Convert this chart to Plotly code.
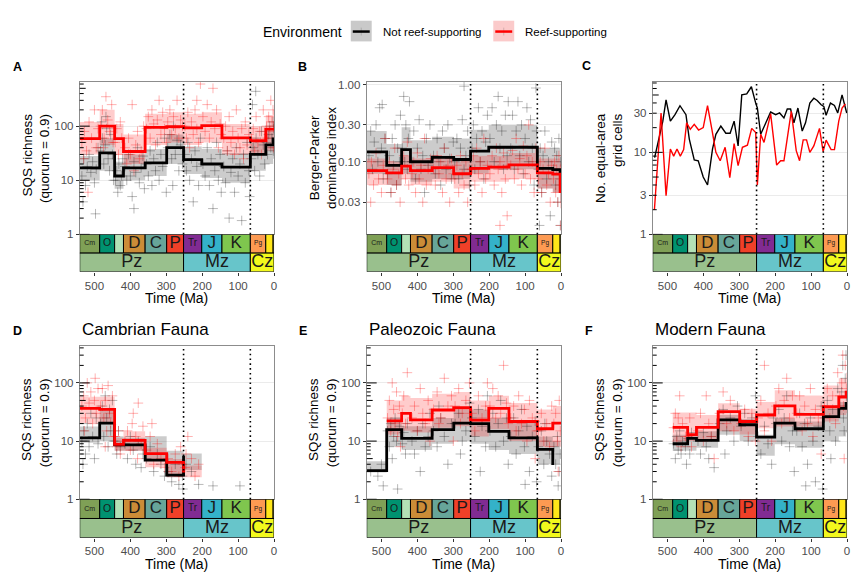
import math
import plotly.graph_objects as go

W, H = 864, 588
FONT = "Liberation Sans, Arial, sans-serif"

# ---------------- geologic time scale ----------------
period_start = [541.0, 485.4, 443.8, 419.2, 358.9, 298.9, 251.902, 201.3, 145.0, 66.0, 23.03, 2.58]
period_end = [485.4, 443.8, 419.2, 358.9, 298.9, 251.902, 201.3, 145.0, 66.0, 23.03, 2.58, 0.0]
period_colors = ["#7FA056", "#009270", "#B3E1B6", "#CB8C37", "#67A599", "#F04028",
                 "#812B92", "#34B2C9", "#7FC64E", "#FD9A52", "#FFE619", "#F9F97F"]
period_text = ["Cm", "O", "", "D", "C", "P", "Tr", "J", "K", "Pg", "", ""]
period_text_size = [7, 10.5, 1, 17, 17, 17, 10, 17, 17, 6.5, 1, 1]

era_text = ["Pz", "Mz", "Cz"]
era_start = [541.0, 251.902, 66.0]
era_end = [251.902, 66.0, 0.0]
era_colors = ["#99C08D", "#67C5CA", "#F2F91D"]

time_ticks = [500, 400, 300, 200, 100, 0]

# ---------------- Panel A: SQS richness ----------------
a_black_step = [17, 32, 12, 17, 21, 40, 24, 20, 17.5, 30, 45, 58]
a_red_step = [59, 100, 59, 34, 95, 98, 93, 102, 61, 54, 88, 88]
a_black_lo = [10, 15, 7, 10, 12, 20, 13, 11, 9, 15, 20, 25]
a_black_hi = [28, 60, 22, 30, 38, 70, 42, 38, 32, 55, 90, 120]
a_red_lo = [30, 45, 30, 20, 45, 50, 45, 50, 30, 30, 35, 35]
a_red_hi = [120, 200, 110, 70, 170, 180, 170, 180, 110, 100, 160, 200]
a_black_points = [
    (535, 12), (530, 25), (525, 8), (520, 18), (515, 30), (510, 14), (505, 22), (500, 9), (495, 16), (490, 40), (532, 4), (497, 2.4),
    (483, 35), (478, 60), (474, 20), (470, 45), (466, 90), (462, 25), (458, 15), (455, 70), (450, 30), (447, 10), (480, 120), (468, 150),
    (442, 10), (438, 15), (435, 6), (432, 20), (428, 8), (425, 12), (422, 25),
    (415, 18), (410, 10), (405, 30), (400, 12), (395, 5), (390, 22), (385, 14), (380, 40), (375, 9), (370, 17), (365, 28), (361, 7), (390, 3),
    (355, 20), (350, 12), (345, 35), (340, 8), (335, 25), (330, 15), (325, 50), (320, 10), (315, 30), (310, 18), (305, 60), (300, 6),
    (296, 40), (290, 70), (285, 25), (280, 100), (275, 30), (270, 55), (265, 15), (260, 45), (255, 20), (282, 8),
    (248, 30), (244, 15), (240, 50), (235, 10), (230, 25), (225, 4), (220, 35), (215, 18), (210, 8), (205, 60),
    (198, 20), (192, 12), (186, 40), (180, 8), (175, 25), (170, 3), (165, 15), (160, 50), (155, 10), (150, 30), (147, 6),
    (140, 18), (135, 9), (130, 35), (125, 2), (120, 14), (115, 25), (110, 6), (105, 40), (100, 12), (95, 20), (90, 1.8), (85, 30), (80, 9), (75, 50), (70, 15), (68, 5),
    (63, 25), (58, 40), (54, 15), (50, 60), (45, 30), (40, 12), (35, 80), (30, 45), (26, 20), (60, 250), (51, 440),
    (21, 50), (18, 30), (15, 70), (12, 100), (9, 40), (6, 60), (3, 120), (1, 90), (2, 35)]
a_red_points = [
    (535, 50), (528, 80), (522, 35), (515, 120), (508, 60), (500, 200), (495, 40), (490, 90), (530, 25), (518, 6),
    (483, 100), (478, 200), (473, 60), (468, 350), (463, 130), (458, 80), (452, 250), (448, 50), (475, 40),
    (442, 50), (438, 90), (433, 30), (428, 120), (424, 60),
    (415, 40), (410, 20), (405, 60), (400, 30), (395, 250), (390, 15), (385, 45), (380, 80), (375, 25), (370, 35), (363, 100),
    (355, 90), (350, 150), (345, 60), (340, 200), (335, 110), (330, 45), (325, 130), (320, 300), (315, 70), (310, 180), (305, 90), (300, 50),
    (296, 120), (290, 200), (285, 70), (280, 150), (275, 90), (270, 300), (265, 60), (260, 130), (255, 100),
    (248, 100), (244, 60), (240, 180), (235, 40), (230, 120), (225, 70), (220, 200), (215, 90), (210, 50), (205, 600), (215, 300),
    (198, 150), (192, 80), (186, 250), (180, 60), (175, 120), (170, 500), (165, 90), (160, 200), (155, 40), (150, 110), (147, 70),
    (140, 60), (135, 100), (130, 35), (125, 150), (120, 50), (115, 80), (110, 30), (105, 200), (100, 60), (95, 40), (90, 90), (85, 25), (80, 120), (75, 45), (70, 70),
    (63, 60), (58, 90), (54, 35), (50, 150), (45, 50), (40, 80), (35, 30), (30, 200), (26, 60),
    (21, 100), (18, 60), (15, 150), (12, 80), (9, 300), (6, 120), (3, 200), (1, 100), (2, 40)]

# ---------------- Panel B: Berger-Parker dominance ----------------
b_black_step = [0.134, 0.090, 0.144, 0.100, 0.114, 0.107, 0.137, 0.154, 0.154, 0.082, 0.079, 0.072]
b_red_step = [0.077, 0.072, 0.088, 0.077, 0.084, 0.070, 0.082, 0.085, 0.091, 0.072, 0.069, 0.041]
b_black_lo = [0.07, 0.05, 0.07, 0.055, 0.06, 0.06, 0.07, 0.08, 0.08, 0.045, 0.04, 0.03]
b_black_hi = [0.25, 0.17, 0.28, 0.19, 0.21, 0.20, 0.26, 0.30, 0.30, 0.15, 0.15, 0.20]
b_red_lo = [0.05, 0.05, 0.06, 0.05, 0.055, 0.045, 0.055, 0.055, 0.06, 0.045, 0.04, 0.025]
b_red_hi = [0.11, 0.10, 0.12, 0.11, 0.12, 0.10, 0.12, 0.12, 0.13, 0.11, 0.11, 0.10]
b_black_points = [
    (535, 0.12), (530, 0.25), (525, 0.08), (520, 0.18), (515, 0.3), (510, 0.1), (505, 0.5), (500, 0.15), (495, 0.06), (490, 0.2), (498, 0.55),
    (483, 0.07), (478, 0.12), (474, 0.04), (470, 0.2), (466, 0.09), (462, 0.3), (458, 0.05), (455, 0.15), (450, 0.1), (447, 0.4),
    (442, 0.15), (438, 0.7), (435, 0.1), (432, 0.3), (428, 0.08), (425, 0.2), (422, 0.6),
    (415, 0.1), (410, 0.25), (405, 0.06), (400, 0.15), (395, 0.35), (390, 0.08), (385, 0.12), (380, 0.04), (375, 0.2), (370, 0.09), (365, 0.3),
    (355, 0.12), (350, 0.07), (345, 0.2), (340, 0.1), (335, 0.05), (330, 0.25), (325, 0.15), (320, 0.08), (315, 0.3), (310, 0.11), (305, 0.06), (300, 0.18),
    (296, 0.1), (290, 0.2), (285, 0.06), (280, 0.15), (275, 0.35), (270, 0.08), (265, 0.12), (260, 0.25), (255, 0.05), (270, 0.95),
    (248, 0.15), (244, 0.3), (240, 0.08), (235, 0.2), (230, 0.5), (225, 0.1), (220, 0.25), (215, 0.06), (210, 0.18), (205, 0.4),
    (198, 0.2), (192, 0.5), (186, 0.1), (180, 0.3), (175, 0.7), (170, 0.15), (165, 0.25), (160, 0.08), (155, 0.4), (150, 0.12), (147, 0.6),
    (140, 0.15), (135, 0.4), (130, 0.08), (125, 0.25), (120, 0.6), (115, 0.12), (110, 0.3), (105, 0.07), (100, 0.2), (95, 0.5), (90, 0.1), (85, 0.35), (80, 0.15), (75, 0.05), (70, 0.9), (68, 0.25),
    (63, 0.08), (58, 0.15), (54, 0.04), (50, 0.12), (45, 0.25), (40, 0.06), (35, 0.1), (30, 0.02), (26, 0.18), (60, 0.015),
    (21, 0.08), (18, 0.15), (15, 0.05), (12, 0.12), (9, 0.03), (6, 0.2), (3, 0.06), (1, 0.1), (2, 0.015)]
b_red_points = [
    (535, 0.07), (528, 0.1), (522, 0.05), (515, 0.13), (508, 0.06), (500, 0.04), (495, 0.09), (490, 0.2), (530, 0.03),
    (483, 0.06), (478, 0.1), (473, 0.04), (468, 0.08), (463, 0.15), (458, 0.05), (452, 0.07), (448, 0.03),
    (442, 0.09), (438, 0.12), (433, 0.06), (428, 0.18), (424, 0.05),
    (415, 0.07), (410, 0.1), (405, 0.04), (400, 0.13), (395, 0.06), (390, 0.09), (385, 0.03), (380, 0.2), (375, 0.05), (370, 0.08), (363, 0.11),
    (355, 0.08), (350, 0.05), (345, 0.12), (340, 0.07), (335, 0.1), (330, 0.04), (325, 0.15), (320, 0.06), (315, 0.09), (310, 0.03), (305, 0.11), (300, 0.07),
    (296, 0.06), (290, 0.09), (285, 0.04), (280, 0.12), (275, 0.07), (270, 0.05), (265, 0.1), (260, 0.03), (255, 0.08),
    (248, 0.08), (244, 0.12), (240, 0.05), (235, 0.15), (230, 0.07), (225, 0.1), (220, 0.04), (215, 0.2), (210, 0.06), (205, 0.09),
    (198, 0.07), (192, 0.12), (186, 0.05), (180, 0.15), (175, 0.08), (170, 0.1), (165, 0.04), (160, 0.13), (155, 0.06), (150, 0.09),
    (140, 0.09), (135, 0.14), (130, 0.06), (125, 0.2), (120, 0.08), (115, 0.11), (110, 0.05), (105, 0.16), (100, 0.07), (95, 0.12), (90, 0.3), (85, 0.06), (80, 0.1), (75, 0.04), (70, 0.15),
    (63, 0.06), (58, 0.1), (54, 0.04), (50, 0.08), (45, 0.15), (40, 0.05), (35, 0.07), (30, 0.03), (26, 0.09),
    (21, 0.06), (18, 0.1), (15, 0.04), (12, 0.08), (9, 0.03), (6, 0.12), (3, 0.05), (1, 0.015), (2, 0.08), (170, 0.015), (150, 0.02)]

# ---------------- Panel C: number of grid cells ----------------
c_black_age = [535.7, 513, 503.9, 491.9, 479, 465.1, 448.5, 439.2, 425.4, 414.3, 400.4, 388.4, 374.5, 365.2, 351.4, 337.5,
               325.5, 314.4, 303.3, 293.1, 279.3, 266.3, 254.3, 249.7, 240.4, 226.6, 212.7, 198.8, 187.7, 175.7, 166.4, 157.2,
               147.9, 136.8, 124.8, 115.6, 103.6, 92.5, 83.2, 72.1, 64.7, 58.3, 46.2, 35.1, 25.9, 13.9, 0.9]
c_black_n = [8.6, 23.8, 43.6, 24, 28.8, 37, 28.8, 14.5, 8.1, 7.9, 5.0, 4.0, 11.0, 16.6, 20.9, 17.1,
             17.1, 24, 12, 50.1, 51.5, 63, 39.8, 34.7, 16.6, 22.9, 31, 28.8, 30.2, 26.3, 33.7, 33.7,
             22.9, 34.7, 18.2, 22.9, 39.8, 45.7, 42.9, 38, 36.3, 28.3, 39.8, 37.3, 30.2, 50.1, 30.2]
c_red_age = [536.3, 517.8, 503.9, 491.9, 482.7, 473.4, 464.2, 454.9, 446.6, 436.4, 425.4, 413.3, 400.4, 388.4, 376.3, 365.2,
             353.2, 339.4, 326.4, 314.4, 303.3, 291.3, 277.4, 265.4, 254.3, 249.7, 240.4, 231.2, 212.7, 196, 184.9, 175.7,
             155.3, 141.5, 132.2, 122.1, 112.8, 103.6, 92.5, 76.7, 66.6, 58.3, 44.4, 35.1, 23.1, 13.9, 4.6]
c_red_n = [2.0, 30.2, 2.96, 11.0, 9.0, 11.0, 9.0, 10.8, 22.9, 19.1, 21.9, 18.7, 20, 37, 19.1, 10,
           7.9, 11.5, 4.9, 12.8, 6.9, 11.5, 12.2, 19.6, 17.4, 4.0, 16.6, 13.2, 29.4, 7.0, 7.9, 7.9,
           31.6, 10.5, 7.9, 14.2, 14.2, 10, 12, 19.6, 10.2, 14.1, 10.8, 10.8, 24, 34.7, 39]

# ---------------- Panel D: Cambrian fauna ----------------
d_black_step = [11.4, 20.4, 8.6, 8.6, 4.7, 2.6, 5.6, None, None, None, None, None]
d_red_step = [36.5, 35, 8.8, 10.3, 6.1, 4.3, 2.9, None, None, None, None, None]
d_black_lo = [9.4, 10, 6.8, 6.8, 4.6, 2.4, 3.2, None, None, None, None, None]
d_black_hi = [17.9, 36.5, 12.1, 11.4, 12.1, 6.8, 6.1, None, None, None, None, None]
d_red_lo = [20.4, 20.4, 6.8, 6.8, 3.55, 2.4, 2.4, None, None, None, None, None]
d_red_hi = [57.6, 57.6, 11.4, 14.7, 7.7, 4.9, 3.8, None, None, None, None, None]
d_black_points = [
    (535, 10), (530, 15), (525, 6), (520, 20), (515, 8), (510, 30), (505, 12), (500, 5), (495, 25), (490, 9), (532, 4),
    (483, 20), (478, 40), (474, 12), (470, 60), (466, 25), (462, 8), (458, 35), (455, 15), (450, 50), (447, 10),
    (442, 10), (438, 6), (433, 15), (428, 8),
    (415, 9), (408, 5), (400, 12), (392, 7), (385, 4), (378, 10), (370, 3.5), (365, 6),
    (355, 5), (345, 8), (335, 3), (325, 6), (315, 4), (305, 2.5),
    (295, 3), (285, 2), (275, 4), (265, 1.8), (255, 2.5),
    (245, 4), (230, 3), (210, 1.8), (170, 1.7), (95, 1.7), (254, 1.5)]
d_red_points = [
    (535, 40), (530, 60), (525, 25), (520, 100), (515, 45), (510, 70), (505, 20), (500, 50), (495, 30), (490, 80), (528, 15), (498, 120),
    (483, 40), (478, 80), (474, 25), (470, 50), (466, 15), (462, 90), (458, 30), (455, 20), (450, 60), (447, 12), (470, 8),
    (442, 12), (438, 8), (433, 15), (428, 6),
    (415, 10), (408, 15), (400, 7), (392, 30), (385, 12), (378, 45), (370, 9), (365, 18), (380, 5), (395, 20),
    (355, 7), (345, 12), (335, 4), (325, 9), (315, 5), (305, 3.5), (340, 20),
    (295, 5), (285, 3), (275, 6), (265, 2.5), (255, 4), (260, 8),
    (248, 3.5), (240, 12), (230, 5), (220, 2.5), (210, 4), (245, 6)]

# ---------------- Panel E: Paleozoic fauna ----------------
e_black_step = [3.1, 15.7, 11.1, 11.1, 15.7, 20.4, 19.9, 14.7, 11.4, 7.2, 3.9, None]
e_red_step = [None, 22.3, 30, 23.2, 34.2, 37.4, 22.9, 36.5, 21.7, 16.3, 20.4, 20.4]
e_black_lo = [2.9, 8, 7, 7, 9, 10, 9, 7, 6, 4, 4, None]
e_black_hi = [4.5, 25, 18, 18, 25, 35, 35, 25, 22, 12, 10, None]
e_red_lo = [None, 13, 15, 14, 17, 18, 12, 16, 10, 8, 8, 8]
e_red_hi = [None, 50, 60, 55, 65, 70, 50, 60, 45, 35, 40, 40]
e_black_points = [
    (530, 3), (510, 2.5), (495, 1.7), (500, 4),
    (483, 15), (478, 8), (474, 20), (470, 5), (466, 12), (462, 25), (458, 10), (455, 1.5), (450, 18),
    (442, 9), (438, 14), (433, 6), (428, 20),
    (415, 10), (408, 6), (400, 15), (392, 3), (385, 20), (378, 8), (370, 12), (365, 30),
    (355, 15), (345, 8), (335, 25), (325, 12), (315, 4), (305, 20), (340, 40),
    (295, 20), (285, 30), (275, 10), (265, 15), (255, 45), (280, 6),
    (248, 25), (240, 12), (230, 35), (220, 18), (210, 8), (205, 60), (225, 3),
    (198, 15), (190, 30), (182, 8), (175, 20), (168, 50), (160, 10), (152, 25), (147, 4),
    (140, 12), (132, 25), (125, 6), (118, 15), (110, 35), (102, 8), (95, 18), (88, 3), (80, 12), (72, 22), (68, 2), (100, 1.8),
    (63, 8), (55, 15), (48, 4), (40, 10), (32, 6), (26, 2.5), (45, 20),
    (20, 8), (15, 4), (10, 12), (5, 3), (2, 6), (8, 1.7)]
e_red_points = [
    (483, 25), (478, 50), (474, 15), (470, 100), (466, 35), (462, 20), (458, 70), (455, 12), (450, 40), (447, 8),
    (442, 30), (438, 60), (433, 20), (428, 150),
    (415, 25), (408, 40), (400, 15), (392, 80), (385, 30), (378, 20), (370, 50), (365, 10),
    (355, 35), (345, 70), (335, 25), (325, 120), (315, 40), (305, 60), (340, 20), (300, 10),
    (295, 40), (285, 80), (275, 30), (265, 50), (255, 100), (280, 20),
    (248, 30), (240, 15), (230, 60), (220, 25), (210, 40), (205, 100),
    (198, 40), (190, 80), (182, 25), (175, 60), (168, 30), (160, 200), (152, 45), (147, 20),
    (140, 25), (132, 40), (125, 15), (118, 60), (110, 20), (102, 35), (95, 10), (88, 50), (80, 25), (72, 5), (68, 15),
    (63, 15), (55, 30), (48, 10), (40, 20), (32, 8), (26, 40),
    (20, 20), (15, 30), (10, 10), (5, 50), (2, 15), (8, 3)]

# ---------------- Panel F: Modern fauna ----------------
f_black_step = [None, 9.0, 11.1, 10.3, 23.2, 19.1, 11.7, 20.4, 16.3, 26.4, 36.5, 44.3]
f_red_step = [None, 17.2, 12.9, 17.2, 32, 21.7, 28.1, 40.4, 28.9, 38.9, 57.3, 69.6]
f_black_lo = [None, 6.8, 6.8, 7.7, 12.9, 10, 5.6, 8.8, 7.7, 10, 12, 14]
f_black_hi = [None, 12.9, 12.9, 14.7, 28, 24, 12.9, 24.6, 21.7, 36.5, 47, 55]
f_red_lo = [None, 10, 10, 10, 14.7, 13, 16.7, 17.9, 17.9, 21.7, 28, 30]
f_red_hi = [None, 31, 31, 28, 44.5, 36, 47, 74.5, 61, 90, 120, 150]
f_black_points = [
    (483, 9), (478, 5), (474, 12), (470, 7), (466, 15), (462, 6), (458, 10), (450, 8), (447, 4),
    (442, 11), (438, 6), (433, 14),
    (415, 10), (408, 6), (400, 14), (392, 8), (385, 5), (378, 12), (370, 3.5),
    (355, 20), (345, 35), (335, 15), (325, 25), (315, 10), (305, 40), (340, 6),
    (295, 18), (285, 30), (275, 10), (265, 25), (255, 60),
    (248, 12), (240, 6), (230, 18), (220, 9), (210, 4), (205, 25),
    (198, 20), (190, 35), (182, 10), (175, 25), (168, 60), (160, 8), (152, 15), (147, 3),
    (140, 15), (132, 30), (125, 8), (118, 20), (110, 4), (102, 25), (95, 10), (88, 2), (80, 18), (72, 40), (68, 1.5), (115, 1.7),
    (63, 25), (55, 50), (48, 15), (40, 35), (32, 10), (26, 80), (45, 5),
    (20, 40), (15, 70), (10, 25), (5, 120), (2, 60), (12, 200), (8, 15), (3, 300)]
f_red_points = [
    (483, 17), (478, 30), (474, 10), (470, 25), (466, 60), (462, 8), (458, 20), (450, 12),
    (442, 12), (438, 25), (433, 8),
    (415, 15), (408, 30), (400, 10), (392, 60), (385, 20), (378, 12), (370, 5),
    (355, 30), (345, 70), (335, 20), (325, 50), (315, 15),
    (295, 20), (285, 35), (275, 12), (265, 30), (255, 10),
    (248, 25), (240, 50), (230, 15), (220, 30), (210, 10), (230, 200),
    (198, 40), (190, 80), (182, 20), (175, 50), (168, 120), (160, 25), (152, 60),
    (140, 30), (132, 60), (125, 15), (118, 40), (110, 20), (102, 80), (95, 12), (88, 35), (80, 25), (72, 6),
    (63, 40), (55, 80), (48, 25), (40, 60), (32, 20), (26, 150),
    (20, 60), (15, 100), (10, 40), (5, 200), (2, 80), (12, 300), (8, 5)]

# ---------------- styling ----------------
BLACK = "#000000"
RED = "#FF0000"
GRAY_FILL = "rgba(0,0,0,0.2)"
PINK_FILL = "rgba(255,0,0,0.2)"
BLACK_PT = "rgba(0,0,0,0.28)"
RED_PT = "rgba(255,0,0,0.3)"
BORDER = "#8C8C8C"
TICKFONT = dict(family=FONT, size=11.5, color="#4D4D4D")
SQS = "SQS richness<br>(quorum = 0.9)"


def fx(px):
    return px / W


def fy(py):
    return 1 - py / H


cols = [(80, 275), (368, 563), (655, 850)]
rows = [((80, 235), (235, 273)), ((348, 504), (504, 543))]
letter_pos = [(17.5, 65), (304, 65), (589, 64), (17.5, 333), (304, 333), (591, 333)]

panels = [
    dict(letter="A", title="", col=0, row=0, yrange=[0, 2.82], yt=[1, 10, 100], ytt=["1", "10", "100"],
         ytitle=SQS, align="right", logticks=True,
         ribbons=[(a_black_lo, a_black_hi, GRAY_FILL), (a_red_lo, a_red_hi, PINK_FILL)],
         points=[(a_black_points, BLACK_PT), (a_red_points, RED_PT)],
         steps=[(a_black_step, BLACK), (a_red_step, RED)], lines=[]),
    dict(letter="B", title="", col=1, row=0, yrange=[-1.94, 0.035], yt=[0.03, 0.1, 0.3, 1.0],
         ytt=["0.03", "0.10", "0.30", "1.00"], ytitle="Berger-Parker<br>dominance index", align="center",
         logticks=False,
         ribbons=[(b_black_lo, b_black_hi, GRAY_FILL), (b_red_lo, b_red_hi, PINK_FILL)],
         points=[(b_black_points, BLACK_PT), (b_red_points, RED_PT)],
         steps=[(b_black_step, BLACK), (b_red_step, RED)], lines=[]),
    dict(letter="C", title="", col=2, row=0, yrange=[0, 1.86], yt=[1, 3, 10, 30], ytt=["1", "3", "10", "30"],
         ytitle="No. equal-area<br>grid cells", align="right", logticks=True,
         ribbons=[], points=[], steps=[],
         lines=[(c_black_age, c_black_n, BLACK), (c_red_age, c_red_n, RED)]),
    dict(letter="D", title="Cambrian Fauna", col=0, row=1, yrange=[0, 2.64], yt=[1, 10, 100],
         ytt=["1", "10", "100"], ytitle=SQS, align="right", logticks=True,
         ribbons=[(d_black_lo, d_black_hi, GRAY_FILL), (d_red_lo, d_red_hi, PINK_FILL)],
         points=[(d_black_points, BLACK_PT), (d_red_points, RED_PT)],
         steps=[(d_black_step, BLACK), (d_red_step, RED)], lines=[]),
    dict(letter="E", title="Paleozoic Fauna", col=1, row=1, yrange=[0, 2.64], yt=[1, 10, 100],
         ytt=["1", "10", "100"], ytitle=SQS, align="right", logticks=True,
         ribbons=[(e_black_lo, e_black_hi, GRAY_FILL), (e_red_lo, e_red_hi, PINK_FILL)],
         points=[(e_black_points, BLACK_PT), (e_red_points, RED_PT)],
         steps=[(e_black_step, BLACK), (e_red_step, RED)], lines=[]),
    dict(letter="F", title="Modern Fauna", col=2, row=1, yrange=[0, 2.64], yt=[1, 10, 100],
         ytt=["1", "10", "100"], ytitle=SQS, align="right", logticks=True,
         ribbons=[(f_black_lo, f_black_hi, GRAY_FILL), (f_red_lo, f_red_hi, PINK_FILL)],
         points=[(f_black_points, BLACK_PT), (f_red_points, RED_PT)],
         steps=[(f_black_step, BLACK), (f_red_step, RED)], lines=[]),
]


def axname(n, a):
    return a if n == 1 else f"{a}{n}"


def axkey(n, a):
    return f"{a}axis" if n == 1 else f"{a}axis{n}"


def ribbon_xy(lo, hi):
    xs, ys = [], []
    for s, e, l, h in zip(period_start, period_end, lo, hi):
        if l is None or h is None:
            continue
        xs += [s, e, e, s, s, None]
        ys += [l, l, h, h, l, None]
    return xs, ys


fig = go.Figure()
layout_axes = {}
shapes = []
annotations = []

for p, P in enumerate(panels):
    nm, nt = 2 * p + 1, 2 * p + 2
    xm, ym = axname(nm, "x"), axname(nm, "y")
    xt, yt = axname(nt, "x"), axname(nt, "y")
    x0px, x1px = cols[P["col"]]
    (d0, d1), (t0, t1) = rows[P["row"]]

    layout_axes[axkey(nm, "x")] = dict(domain=[fx(x0px), fx(x1px)], anchor=ym, range=[541, 0],
                                       showticklabels=False, ticks="", showgrid=False, zeroline=False,
                                       showline=True, mirror=True, linecolor=BORDER, linewidth=1)
    layout_axes[axkey(nm, "y")] = dict(domain=[fy(d1), fy(d0)], anchor=xm, type="log", range=P["yrange"],
                                       tickmode="array", tickvals=P["yt"], ticktext=P["ytt"],
                                       ticks="outside", ticklen=3, tickcolor="#333333", tickwidth=1,
                                       showgrid=True, gridcolor="#EBEBEB", gridwidth=1, zeroline=False,
                                       showline=True, mirror=True, linecolor=BORDER, linewidth=1,
                                       tickfont=TICKFONT)
    layout_axes[axkey(nt, "x")] = dict(domain=[fx(x0px), fx(x1px)], anchor=yt, range=[541, 0],
                                       tickmode="array", tickvals=time_ticks, ticks="outside", ticklen=3,
                                       tickcolor="#333333", showgrid=False, zeroline=False, showline=False,
                                       tickfont=TICKFONT)
    layout_axes[axkey(nt, "y")] = dict(domain=[fy(t1), fy(t0)], anchor=xt, range=[0, 2], visible=False,
                                       fixedrange=True)

    # ribbons
    for lo, hi, col in P["ribbons"]:
        xs, ys = ribbon_xy(lo, hi)
        fig.add_trace(go.Scatter(x=xs, y=ys, mode="lines", fill="toself", fillcolor=col,
                                 line=dict(width=0), xaxis=xm, yaxis=ym, hoverinfo="skip", showlegend=False))
    # points
    for pts, col in P["points"]:
        fig.add_trace(go.Scatter(x=[a for a, v in pts], y=[v for a, v in pts], mode="markers",
                                 marker=dict(symbol="cross-thin", size=7, line=dict(width=1, color=col)),
                                 xaxis=xm, yaxis=ym, hoverinfo="skip", showlegend=False))
    # step lines
    for vals, col in P["steps"]:
        xs = period_start + [period_end[-1]]
        ys = list(vals) + [vals[-1]]
        fig.add_trace(go.Scatter(x=xs, y=ys, mode="lines", line=dict(shape="hv", width=2.8, color=col),
                                 connectgaps=False, xaxis=xm, yaxis=ym, hoverinfo="skip", showlegend=False))
    # plain lines
    for ages, vals, col in P["lines"]:
        fig.add_trace(go.Scatter(x=ages, y=vals, mode="lines", line=dict(width=1.4, color=col),
                                 xaxis=xm, yaxis=ym, hoverinfo="skip", showlegend=False))

    # time scale boxes
    fig.add_trace(go.Bar(x=[(s + e) / 2 for s, e in zip(period_start, period_end)],
                         y=[1] * len(period_start), base=[1] * len(period_start),
                         width=[s - e for s, e in zip(period_start, period_end)],
                         marker=dict(color=period_colors, line=dict(color="black", width=1)),
                         xaxis=xt, yaxis=yt, hoverinfo="skip", showlegend=False))
    fig.add_trace(go.Bar(x=[(s + e) / 2 for s, e in zip(era_start, era_end)],
                         y=[1] * len(era_start), base=[0] * len(era_start),
                         width=[s - e for s, e in zip(era_start, era_end)],
                         marker=dict(color=era_colors, line=dict(color="black", width=1)),
                         xaxis=xt, yaxis=yt, hoverinfo="skip", showlegend=False))
    fig.add_trace(go.Scatter(x=[(s + e) / 2 for s, e in zip(period_start, period_end)],
                             y=[1.5] * len(period_start), mode="text", text=period_text,
                             textfont=dict(family=FONT, size=period_text_size, color="#1A1A1A"),
                             xaxis=xt, yaxis=yt, hoverinfo="skip", showlegend=False))
    fig.add_trace(go.Scatter(x=[(s + e) / 2 for s, e in zip(era_start, era_end)],
                             y=[0.5] * len(era_start), mode="text", text=era_text,
                             textfont=dict(family=FONT, size=18, color="#1A1A1A"),
                             xaxis=xt, yaxis=yt, hoverinfo="skip", showlegend=False))

    # era boundary dotted lines
    for b in era_start[1:]:
        shapes.append(dict(type="line", xref=xm, yref=f"{ym} domain", x0=b, x1=b, y0=0, y1=1,
                           line=dict(color="black", width=1.6, dash="1.6px,3.2px"), layer="above"))

    # log ticks (inside, left)
    if P["logticks"]:
        top = 10 ** P["yrange"][1]
        d = 0
        while 10 ** d <= top:
            for k in range(1, 10):
                v = k * 10 ** d
                if v > top:
                    break
                L = 10 if k == 1 else (6 if k == 5 else 4)
                shapes.append(dict(type="line", xref=f"{xm} domain", yref=ym, x0=0, x1=L / 195,
                                   y0=v, y1=v, line=dict(color="black", width=1), layer="above"))
            d += 1

    # titles / labels
    annotations.append(dict(x=fx(x0px - 44), y=fy((d0 + d1) / 2), xref="paper", yref="paper",
                            text=P["ytitle"], textangle=-90, align=P["align"], showarrow=False,
                            xanchor="center", yanchor="middle",
                            font=dict(family=FONT, size=13.5, color="black")))
    annotations.append(dict(x=fx((x0px + x1px) / 2), y=fy(t1 + 27), xref="paper", yref="paper",
                            text="Time (Ma)", showarrow=False, xanchor="center", yanchor="middle",
                            font=dict(family=FONT, size=14, color="black")))
    lx, ly = letter_pos[p]
    annotations.append(dict(x=fx(lx), y=fy(ly), xref="paper", yref="paper", text=f"<b>{P['letter']}</b>",
                            showarrow=False, xanchor="center", yanchor="middle",
                            font=dict(family=FONT, size=12.5, color="black")))
    if P["title"]:
        annotations.append(dict(x=fx(x0px), y=fy(332), xref="paper", yref="paper", text=P["title"],
                                showarrow=False, xanchor="left", yanchor="middle",
                                font=dict(family=FONT, size=17, color="black")))

# ---------------- legend (drawn manually) ----------------
annotations.append(dict(x=fx(345), y=fy(29), xref="paper", yref="paper", text="Environment", showarrow=False,
                        xanchor="right", yanchor="middle", font=dict(family=FONT, size=14, color="black")))
legend_items = [("Not reef-supporting", 352, "#C9C9C9", BLACK), ("Reef-supporting", 495, "#FBCACA", RED)]
for label, kx, fill, lc in legend_items:
    shapes.append(dict(type="rect", xref="paper", yref="paper", x0=fx(kx), x1=fx(kx + 21), y0=fy(39), y1=fy(18),
                       fillcolor=fill, line=dict(width=0)))
    shapes.append(dict(type="line", xref="paper", yref="paper", x0=fx(kx + 10.5), x1=fx(kx + 10.5),
                       y0=fy(33), y1=fy(25), line=dict(color="rgba(0,0,0,0.15)", width=1)))
    shapes.append(dict(type="line", xref="paper", yref="paper", x0=fx(kx + 2), x1=fx(kx + 19),
                       y0=fy(29), y1=fy(29), line=dict(color=lc, width=2.5)))
    annotations.append(dict(x=fx(kx + 30), y=fy(29), xref="paper", yref="paper", text=label, showarrow=False,
                            xanchor="left", yanchor="middle", font=dict(family=FONT, size=11.5, color="black")))

fig.update_layout(
    width=W, height=H, autosize=False,
    margin=dict(l=0, r=0, t=0, b=0),
    paper_bgcolor="white", plot_bgcolor="white",
    barmode="overlay", showlegend=False,
    font=dict(family=FONT, color="black"),
    shapes=shapes, annotations=annotations,
    **layout_axes,
)

fig.write_html("out.html")
